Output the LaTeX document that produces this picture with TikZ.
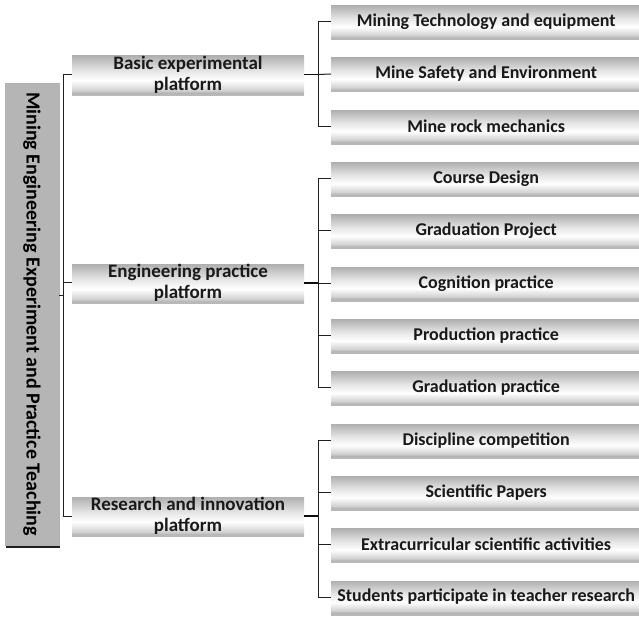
\documentclass[tikz,border=0pt]{standalone}
\usepackage{fontspec}
\setmainfont{Carlito}
\usepackage{xcolor}
\usepackage{tikz}
\usetikzlibrary{calc, shadows, positioning}

% vertical shading: gray top, white lower middle, gray bottom
\pgfdeclareverticalshading{boxshade}{100bp}{%
  color(0bp)=(gray!60); color(25bp)=(gray!60); color(29bp)=(gray!35);
  color(42bp)=(white); color(55bp)=(gray!20); color(75bp)=(gray!62);
  color(100bp)=(gray!62)}

\tikzset{
  rootbox/.style={draw=gray!60, fill=gray!58, rotate=-90,
    minimum width=462pt, minimum height=54pt, inner sep=0pt,
    text=black, font=\fontsize{20}{22}\selectfont\bfseries,
    drop shadow={shadow xshift=1pt, shadow yshift=-2.5pt, opacity=1, fill=gray!25!black}},
  platbox/.style={shading=boxshade, minimum width=232pt, minimum height=35pt,
    inner sep=0pt, align=center, text=gray!20!black,
    font=\fontsize{19}{21}\selectfont\bfseries,
    drop shadow={shadow xshift=0pt, shadow yshift=-2.5pt, opacity=0.8, fill=gray!70}},
  itembox/.style={shading=boxshade, anchor=west, minimum width=310pt,
    minimum height=32pt, inner sep=0pt, text=gray!20!black,
    font=\fontsize{18}{20}\selectfont\bfseries,
    drop shadow={shadow xshift=0pt, shadow yshift=-2.5pt, opacity=0.8, fill=gray!70}},
  link/.style={draw=gray!25!black, line width=1pt},
  thicklink/.style={draw=gray!10!black, line width=1.8pt}
}

\begin{document}
\begin{tikzpicture}[x=1pt, y=-1pt]
    \useasboundingbox (0,0) rectangle (639,617);

    % 1. Khối gốc dựng đứng bên trái
    \node[rootbox] (root) at (32,314) {Mining Engineering Experiment and Practice Teaching};

    % 2. Ba khối nền tảng ở giữa
    \node[platbox] (basic) at (188,74.5) {Basic experimental\\platform};
    \node[platbox] (engin) at (188,283) {Engineering practice\\platform};
    \node[platbox] (research) at (188,516) {Research and innovation\\platform};

    % 3. Các khối nội dung bên phải
    \node[itembox] (t1) at (331,21.7) {Mining Technology and equipment};
    \node[itembox] (t2) at (331,74) {Mine Safety and Environment};
    \node[itembox] (t3) at (331,126.3) {Mine rock mechanics};
    \node[itembox] (t4) at (331,178.6) {Course Design};
    \node[itembox] (t5) at (331,230.9) {Graduation Project};
    \node[itembox] (t6) at (331,283.2) {Cognition practice};
    \node[itembox] (t7) at (331,335.5) {Production practice};
    \node[itembox] (t8) at (331,387.8) {Graduation practice};
    \node[itembox] (t9) at (331,440.1) {Discipline competition};
    \node[itembox] (t10) at (331,492.4) {Scientific Papers};
    \node[itembox] (t11) at (331,544.7) {Extracurricular scientific activities};
    \node[itembox] (t12) at (331,597) {Students participate in teacher research};

    % 4. Đường nối gốc -> nền tảng
    \coordinate (rbar) at ($(root.north)+(4,-19)$);
    \draw[link] ([yshift=19pt]root.north) -- (rbar);
    \draw[link] (basic.west) -| (rbar) |- (research.west);
    \draw[link] (rbar |- engin.west) -- (engin.west);

    % 5. Đường nối nền tảng -> nội dung
    \draw[thicklink] (basic.east) -- ++(14,0) coordinate (b1);
    \draw[link] (t1.west) -| (b1) |- (t3.west);
    \draw[link] (b1) -- (t2.west);

    \draw[thicklink] (engin.east) -- ++(14,0) coordinate (b2);
    \draw[link] (t4.west) -| (b2) |- (t8.west);
    \draw[link] (b2 |- t5.west) -- (t5.west);
    \draw[link] (b2 |- t6.west) -- (t6.west);
    \draw[link] (b2 |- t7.west) -- (t7.west);

    \draw[thicklink] (research.east) -- ++(14,0) coordinate (b3);
    \draw[link] (t9.west) -| (b3) |- (t12.west);
    \draw[link] (b3 |- t10.west) -- (t10.west);
    \draw[link] (b3 |- t11.west) -- (t11.west);

\end{tikzpicture}
\end{document}
